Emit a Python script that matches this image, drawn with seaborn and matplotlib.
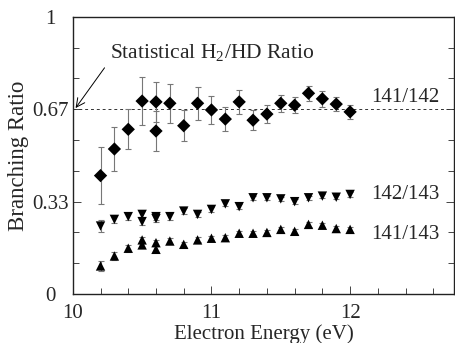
import numpy as np
import pandas as pd
import seaborn as sns
import matplotlib.pyplot as plt

# Data
x_141_142 = [10.2, 10.3, 10.4, 10.5, 10.6, 10.6, 10.7, 10.8, 10.9, 11.0,
             11.1, 11.2, 11.3, 11.4, 11.5, 11.6, 11.7, 11.8, 11.9, 12.0]
y_141_142 = [0.427, 0.523, 0.594, 0.696, 0.693, 0.588, 0.688, 0.607, 0.688, 0.664,
             0.631, 0.693, 0.627, 0.649, 0.688, 0.681, 0.724, 0.704, 0.685, 0.657]
e_141_142 = [0.102, 0.079, 0.072, 0.088, 0.072, 0.072, 0.070, 0.055, 0.059, 0.049,
             0.043, 0.042, 0.036, 0.033, 0.031, 0.029, 0.027, 0.028, 0.024, 0.026]

x_142_143 = [10.2, 10.3, 10.4, 10.5, 10.5, 10.6, 10.6, 10.7, 10.8, 10.9, 11.0,
             11.1, 11.2, 11.3, 11.4, 11.5, 11.6, 11.7, 11.8, 11.9, 12.0]
y_142_143 = [0.245, 0.269, 0.279, 0.287, 0.261, 0.279, 0.272, 0.279, 0.299, 0.287, 0.305,
             0.325, 0.315, 0.347, 0.347, 0.343, 0.333, 0.347, 0.353, 0.349, 0.359]
e_142_143 = [0.022, 0.014, 0.013, 0.012, 0.012, 0.012, 0.012, 0.012, 0.012, 0.010, 0.010,
             0.009, 0.009, 0.008, 0.008, 0.008, 0.008, 0.008, 0.008, 0.008, 0.008]

x_141_143 = [10.2, 10.3, 10.4, 10.5, 10.5, 10.6, 10.6, 10.7, 10.8, 10.9, 11.0,
             11.1, 11.2, 11.3, 11.4, 11.5, 11.6, 11.7, 11.8, 11.9, 12.0]
y_141_143 = [0.101, 0.137, 0.165, 0.195, 0.177, 0.185, 0.161, 0.191, 0.179, 0.195, 0.201,
             0.203, 0.219, 0.219, 0.222, 0.233, 0.226, 0.251, 0.248, 0.236, 0.233]
e_141_143 = [0.018, 0.014, 0.012, 0.012, 0.012, 0.011, 0.011, 0.010, 0.010, 0.009, 0.009,
             0.008, 0.008, 0.008, 0.008, 0.008, 0.008, 0.008, 0.008, 0.008, 0.008]

series_names = ['141/142', '142/143', '141/143']
label_y = [0.709, 0.36, 0.213]
stat_ratio = 2 / 3

df = pd.concat([
    pd.DataFrame({'energy': x_141_142, 'ratio': y_141_142, 'err': e_141_142, 'series': '141/142'}),
    pd.DataFrame({'energy': x_142_143, 'ratio': y_142_143, 'err': e_142_143, 'series': '142/143'}),
    pd.DataFrame({'energy': x_141_143, 'ratio': y_141_143, 'err': e_141_143, 'series': '141/143'}),
], ignore_index=True)

sns.set_style('ticks')
plt.rcParams['font.family'] = ['Liberation Serif', 'DejaVu Serif']
plt.rcParams['mathtext.fontset'] = 'custom'
plt.rcParams['mathtext.rm'] = 'Liberation Serif'

fig = plt.figure(figsize=(4.55, 3.43), dpi=100)
ax = fig.add_axes([0.160, 0.143, 0.838, 0.808])

# dashed line for the statistical ratio
ax.axhline(stat_ratio, color='#333333', lw=0.7, ls=(0, (3, 3)), zorder=1)

# error bars
ax.errorbar(df['energy'], df['ratio'], yerr=df['err'], fmt='none',
            ecolor='#777777', elinewidth=0.8, capsize=2, capthick=0.8, zorder=2)

sns.scatterplot(data=df, x='energy', y='ratio', style='series',
                markers={'141/142': 'D', '142/143': 'v', '141/143': '^'},
                color='black', s=46, edgecolor='black', linewidth=0,
                legend=False, ax=ax, zorder=3)

for name, yy in zip(series_names, label_y):
    ax.text(12.15, yy, name, fontsize=15, ha='left', va='center')

ax.annotate('Statistical H$_2$/HD Ratio', xy=(10.02, stat_ratio + 0.004),
            xytext=(10.27, 0.868), fontsize=15.5, va='center', ha='left',
            arrowprops=dict(arrowstyle='->', color='black', lw=0.7,
                            relpos=(0, 0.2), shrinkA=3, shrinkB=0))

ax.set_xlim(10, 12.75)
ax.set_ylim(0, 1)
ax.set_xticks([10, 11, 12])
ax.set_xticks(np.arange(10, 12.75, 0.2), minor=True)
ax.set_yticks([0, 1 / 3, 2 / 3, 1])
ax.set_yticklabels(['0', '0.33', '0.67', '1'], ha='center')
ax.set_yticks(np.arange(0, 1.001, 1 / 9), minor=True)
ax.tick_params(which='both', direction='in', labelsize=15, right=True, top=False,
               width=0.7, color='#444444')
ax.tick_params(which='major', length=6)
ax.tick_params(which='minor', length=4)
ax.tick_params(axis='x', pad=7)
ax.tick_params(axis='y', pad=16)
for sp in ax.spines.values():
    sp.set_linewidth(1.0)
    sp.set_color('#222222')

ax.set_xlabel('Electron Energy (eV)', fontsize=15, labelpad=1)
ax.set_ylabel('Branching Ratio', fontsize=16.5)
ax.yaxis.set_label_coords(-0.115, 0.5)

fig.savefig('out.png', dpi=100)
